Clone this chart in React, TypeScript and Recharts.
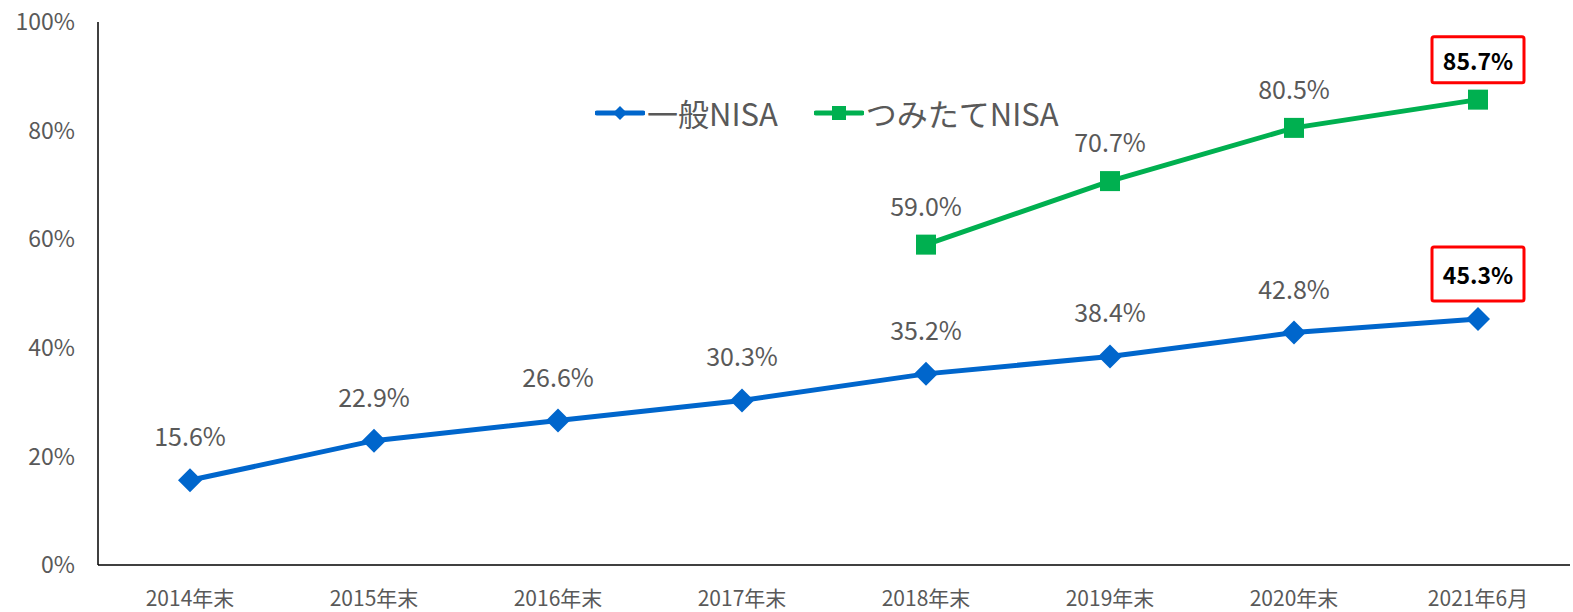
import { LabelList, Legend, Line, LineChart, XAxis, YAxis } from "recharts";

const categories = ["2014年末", "2015年末", "2016年末", "2017年末", "2018年末", "2019年末", "2020年末", "2021年6月"];
const ippanNisa = [15.6, 22.9, 26.6, 30.3, 35.2, 38.4, 42.8, 45.3];
const tsumitateNisa = [null, null, null, null, 59.0, 70.7, 80.5, 85.7];
const yTicks = [0, 20, 40, 60, 80, 100];

const BLUE = "#0066CC";
const GREEN = "#00B050";
const FONT = "'Noto Sans CJK JP', 'Noto Sans', sans-serif";

const data = categories.map((c, i) => ({
    name: c,
    ippan: ippanNisa[i],
    tsumitate: tsumitateNisa[i],
}));

function diamondDot(props: any) {
    const { cx, cy, index } = props;
    if (cx == null || cy == null) return <g key={"d" + index} />;
    const r = 12;
    return (
        <polygon
            key={"d" + index}
            points={`${cx},${cy - r} ${cx + r},${cy} ${cx},${cy + r} ${cx - r},${cy}`}
            fill={BLUE}
        />
    );
}

function squareDot(props: any) {
    const { cx, cy, index, value } = props;
    if (cx == null || cy == null || value == null) return <g key={"s" + index} />;
    const s = 10;
    return <rect key={"s" + index} x={cx - s} y={cy - s} width={s * 2} height={s * 2} fill={GREEN} />;
}

function makeLabel(offset: number, boxH: number) {
    return (props: any) => {
        const { x, y, value, index } = props;
        if (value == null || x == null) return null;
        const ty = y - offset;
        if (index === categories.length - 1) {
            return (
                <g>
                    <rect x={x - 46} y={ty - boxH / 2} width={92} height={boxH} fill="#fff" stroke="#FF0000" strokeWidth={3} rx={2} />
                    <text x={x} y={ty} textAnchor="middle" dominantBaseline="central" fontSize={23} fontWeight="bold" fill="#000" fontFamily={FONT}>
                        {value.toFixed(1)}%
                    </text>
                </g>
            );
        }
        return (
            <text x={x} y={ty} textAnchor="middle" dominantBaseline="central" fontSize={25} fill="#595959" fontFamily={FONT}>
                {value.toFixed(1)}%
            </text>
        );
    };
}

function LegendContent() {
    const items = [
        { name: "一般NISA", color: BLUE, shape: "diamond" },
        { name: "つみたてNISA", color: GREEN, shape: "square" },
    ];
    return (
        <div style={{ display: "flex", alignItems: "center", fontFamily: FONT, fontSize: 31, color: "#595959", lineHeight: 1 }}>
            {items.map((it, i) => (
                <div key={it.name} style={{ display: "flex", alignItems: "center", marginRight: i === 0 ? 36 : 0 }}>
                    <svg width={50} height={20}>
                        <line x1={2} y1={10} x2={48} y2={10} stroke={it.color} strokeWidth={5} strokeLinecap="round" />
                        {it.shape === "diamond" ? (
                            <polygon points="25,3 32,10 25,17 18,10" fill={it.color} />
                        ) : (
                            <rect x={18} y={3} width={14} height={14} fill={it.color} />
                        )}
                    </svg>
                    <span style={{ marginLeft: 2 }}>{it.name}</span>
                </div>
            ))}
        </div>
    );
}

export default function App() {
    return (
        <div style={{ width: 1573, height: 612, background: "#fff" }}>
            <style>{`body{margin:0}`}</style>
            <LineChart width={1573} height={612} data={data} margin={{ top: 22, right: 3, left: 0, bottom: 0 }}>
                <XAxis
                    dataKey="name"
                    height={47}
                    padding={{ left: 92, right: 92 }}
                    tickLine={false}
                    axisLine={{ stroke: "#000", strokeWidth: 1.5 }}
                    tick={{ fill: "#595959", fontSize: 21, fontFamily: FONT }}
                    tickMargin={20}
                    interval={0}
                />
                <YAxis
                    width={98}
                    domain={[0, 100]}
                    ticks={yTicks}
                    tickFormatter={(v) => `${v}%`}
                    tickLine={false}
                    axisLine={{ stroke: "#000", strokeWidth: 1.5 }}
                    tick={{ fill: "#595959", fontSize: 23, fontFamily: FONT }}
                    tickMargin={17}
                />
                <Legend
                    verticalAlign="middle"
                    align="center"
                    content={<LegendContent />}
                    wrapperStyle={{ top: 97, left: 595, width: "auto" }}
                />
                <Line
                    type="linear"
                    dataKey="ippan"
                    stroke={BLUE}
                    strokeWidth={5}
                    dot={diamondDot}
                    activeDot={false}
                    isAnimationActive={false}
                >
                    <LabelList dataKey="ippan" content={makeLabel(45, 54)} />
                </Line>
                <Line
                    type="linear"
                    dataKey="tsumitate"
                    stroke={GREEN}
                    strokeWidth={5}
                    dot={squareDot}
                    activeDot={false}
                    isAnimationActive={false}
                >
                    <LabelList dataKey="tsumitate" content={makeLabel(40, 46)} />
                </Line>
            </LineChart>
        </div>
    );
}
